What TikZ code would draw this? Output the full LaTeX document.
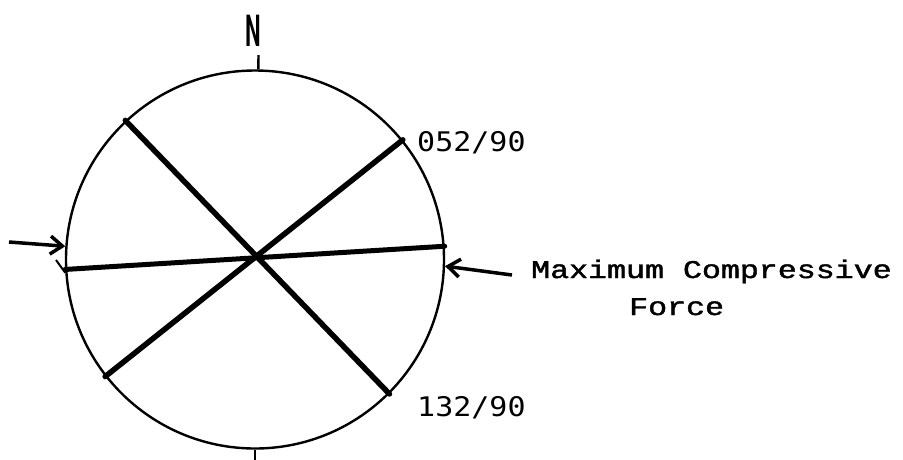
\documentclass[tikz,border=0pt]{standalone}
\usepackage{fontspec}
\usetikzlibrary{arrows.meta}
\newfontfamily\monolabel{DejaVu Sans Mono}
\newfontfamily\typewr{Liberation Mono}
\newfontfamily\northfont{TeX Gyre Heros}
\tikzset{
  ring/.style={circle, draw, line width=2.4pt, minimum size=378pt, inner sep=0pt},
  plane/.style={line width=5.5pt, line cap=round},
  thinplane/.style={line width=5pt, line cap=round},
  forcearrow/.style={line width=3.5pt, -{Straight Barb[length=12pt,width=18pt]}},
  tickmark/.style={line width=2.4pt},
  anglabel/.style={inner sep=0pt, font=\monolabel\fontsize{30}{30}\selectfont},
  forcelabel/.style={inner sep=0pt, font=\typewr\fontsize{25.5}{25.5}\selectfont}
}
\begin{document}
\begin{tikzpicture}[x=1pt,y=-1pt]
\useasboundingbox (0,0) rectangle (903,459);
\node[ring] (C) at (255,259.5) {};
% north label and tick
\node[inner sep=0pt, font=\northfont\bfseries\fontsize{43}{43}\selectfont] (N) at (253,31) {\scalebox{0.5}[1]{N}};
\coordinate (ntop) at (258.5,55);
\draw[tickmark] (ntop) -- (C.89);
\coordinate (sbot) at (255,462);
\draw[tickmark] (C.south) -- (sbot);
% planes
\draw[plane] (C.39.1) -- (C.218.9);
\draw[plane] (C.133.8) -- (C.-45.1);
\draw[thinplane] (C.183.2) -- (C.4.1);
% arrows
\coordinate (ltail) at (9,242);
\draw[forcearrow] (ltail) -- (C.176.2);
\coordinate (rtail) at (512,275);
\draw[forcearrow] (rtail) -- (C.-2.5);
\coordinate (lt1) at (56,260);
\draw[line width=2pt] (lt1) -- (C.184.5);
% labels
\node[anglabel, anchor=west] (L1) at (417,143) {\scalebox{1}[0.9]{052/90}};
\node[anglabel, anchor=west] (L2) at (417,408) {\scalebox{1}[0.9]{132/90}};
\node[forcelabel, anchor=base west] (F1) at (531,278) {\scalebox{1.24}[1]{\addfontfeature{FakeBold=1.5}Maximum Compressive}};
\node[forcelabel, anchor=base west] (F2) at (629,315) {\scalebox{1.24}[1]{\addfontfeature{FakeBold=1.5}Force}};
\end{tikzpicture}
\end{document}
